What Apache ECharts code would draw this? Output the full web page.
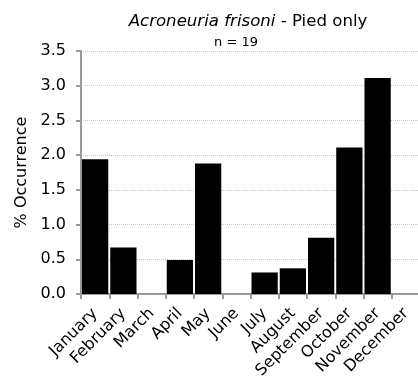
<!DOCTYPE html>
<html>
<head>
<meta charset="utf-8">
<script src="https://cdn.jsdelivr.net/npm/echarts@6/dist/echarts.min.js"></script>
<style>
html,body{margin:0;padding:0;background:#fff;}
#chart{width:418px;height:381px;}
</style>
</head>
<body>
<div id="chart"></div>
<script>
const months = ["January","February","March","April","May","June","July","August","September","October","November","December"];
const occurrence = [1.94, 0.67, 0, 0.49, 1.88, 0, 0.31, 0.37, 0.81, 2.11, 3.11, 0];
const yTicks = [0, 0.5, 1.0, 1.5, 2.0, 2.5, 3.0, 3.5];
const titleItalic = "Acroneuria frisoni";
const titleRest = " - Pied only";
const subtitle = "n = 19";
const yName = "% Occurrence";

const FONT = "DejaVu Sans";
const chart = echarts.init(document.getElementById('chart'), null, {renderer:'canvas'});
chart.setOption({
  animation: false,
  backgroundColor: '#fff',
  title: [
    {
      text: '{i|' + titleItalic + '}{n|' + titleRest + '}',
      left: 243, top: 8, textAlign: 'center',
      textStyle: {
        fontWeight: 'normal',
        rich: {
          i: {fontFamily: FONT, fontSize: 16.6, fontStyle: 'italic', fontWeight: 'normal', color: '#000'},
          n: {fontFamily: FONT, fontSize: 16.6, fontWeight: 'normal', color: '#000'}
        }
      }
    },
    {
      text: subtitle, left: 231, top: 31, textAlign: 'center',
      textStyle: {fontFamily: FONT, fontSize: 13, fontWeight: 'normal', color: '#000'}
    }
  ],
  grid: {left: 81, top: 51, width: 339, height: 243, containLabel: false, outerBoundsMode: 'none'},
  xAxis: {
    type: 'category',
    data: months,
    axisLine: {lineStyle: {color: '#9a9a9a', width: 2}},
    axisTick: {show: true, alignWithLabel: false, length: 5, lineStyle: {color: '#9a9a9a', width: 2}},
    axisLabel: {interval: 0, rotate: 45, margin: 17, fontFamily: FONT, fontSize: 16, color: '#000'},
    splitLine: {show: false}
  },
  yAxis: {
    type: 'value',
    min: 0, max: 3.5, interval: 0.5,
    name: yName, nameLocation: 'middle', nameGap: 51, nameRotate: 90,
    nameTextStyle: {fontFamily: FONT, fontSize: 16, color: '#000'},
    axisLine: {show: true, lineStyle: {color: '#9a9a9a', width: 2}},
    axisTick: {show: true, length: 5, lineStyle: {color: '#9a9a9a', width: 2}},
    axisLabel: {margin: 15, fontFamily: FONT, fontSize: 16, color: '#000',
      formatter: v => { const t = yTicks.find(x => Math.abs(x - v) < 1e-9); return (t !== undefined ? t : v).toFixed(1); }},
    splitLine: {show: true, lineStyle: {color: '#c8c8c8', type: 'dotted', width: 1}}
  },
  series: [{
    type: 'bar',
    data: occurrence,
    barCategoryGap: '7%',
    itemStyle: {color: '#000'}
  }]
});
</script>
</body>
</html>
